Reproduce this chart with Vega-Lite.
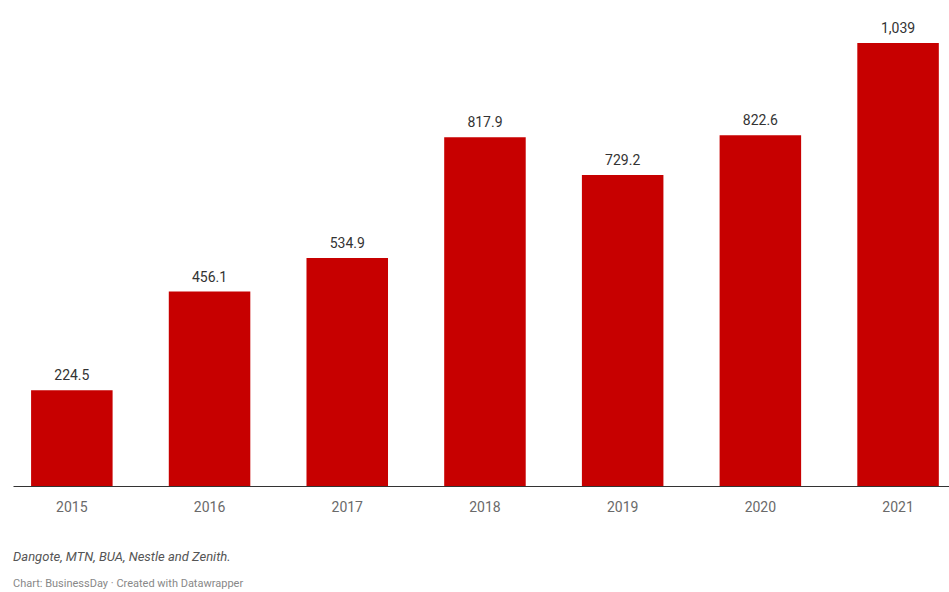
{
  "$schema": "https://vega.github.io/schema/vega-lite/v6.json",
  "width": 936,
  "height": 443,
  "autosize": {"type": "none"},
  "padding": {"left": 13, "top": 43, "right": 0, "bottom": 106},
  "background": "white",
  "config": {"view": {"stroke": null}, "font": "Roboto"},
  "title": {
    "text": "Dangote, MTN, BUA, Nestle and Zenith.",
    "subtitle": "Chart: BusinessDay · Created with Datawrapper",
    "orient": "bottom",
    "anchor": "start",
    "frame": "group",
    "offset": 37,
    "font": "Roboto",
    "fontSize": 13,
    "fontStyle": "italic",
    "fontWeight": "normal",
    "color": "#555555",
    "subtitleFont": "Roboto",
    "subtitleFontSize": 11,
    "subtitleColor": "#888888",
    "subtitlePadding": 14
  },
  "data": {
    "values": [
      {"year": "2015", "value": 224.5, "label": "224.5"},
      {"year": "2016", "value": 456.1, "label": "456.1"},
      {"year": "2017", "value": 534.9, "label": "534.9"},
      {"year": "2018", "value": 817.9, "label": "817.9"},
      {"year": "2019", "value": 729.2, "label": "729.2"},
      {"year": "2020", "value": 822.6, "label": "822.6"},
      {"year": "2021", "value": 1039, "label": "1,039"}
    ]
  },
  "encoding": {
    "x": {
      "field": "year",
      "type": "nominal",
      "sort": null,
      "scale": {"paddingInner": 0.408, "paddingOuter": 0.1026, "align": 0.64},
      "axis": {
        "title": null,
        "labelAngle": 0,
        "ticks": false,
        "domainColor": "#333333",
        "domainWidth": 1,
        "labelFont": "Roboto",
        "labelFontSize": 14,
        "labelColor": "#6a6a6a",
        "labelPadding": 14
      }
    },
    "y": {
      "field": "value",
      "type": "quantitative",
      "scale": {"domain": [0, 1039], "nice": false, "zero": true},
      "axis": null
    }
  },
  "layer": [
    {"mark": {"type": "bar", "color": "#c70000"}},
    {
      "mark": {"type": "text", "dy": -7, "baseline": "bottom", "font": "Roboto", "fontSize": 14, "color": "#333333"},
      "encoding": {"text": {"field": "label"}, "y": {"field": "value", "type": "quantitative"}}
    }
  ]
}
